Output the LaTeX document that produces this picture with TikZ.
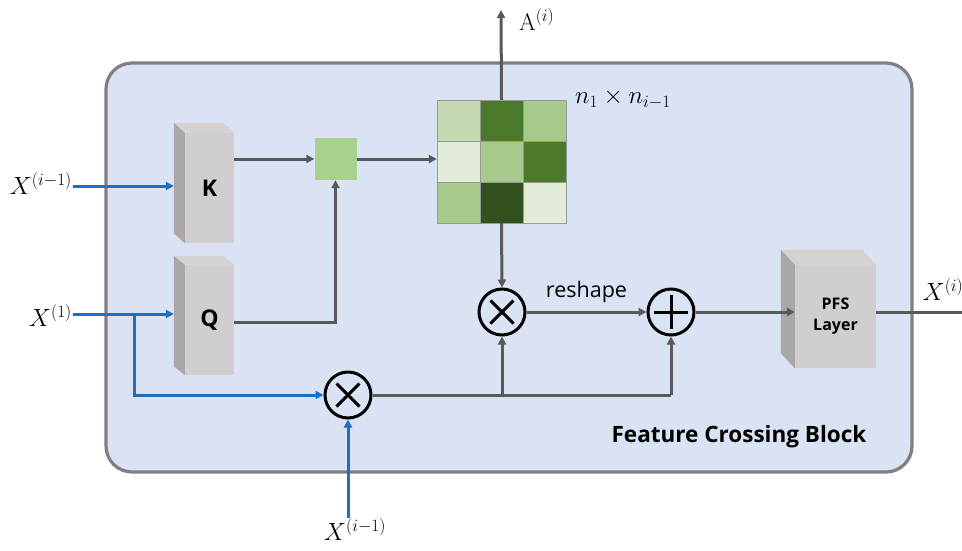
\documentclass[tikz,border=0pt]{standalone}
\usepackage{fontspec}
\setsansfont{Open Sans}
\usetikzlibrary{arrows.meta,calc}
\DeclareMathSizes{24}{24}{18.5}{14}
\definecolor{panel}{HTML}{DAE3F3}
\definecolor{frame}{HTML}{808080}
\definecolor{wire}{HTML}{595959}
\definecolor{inblue}{HTML}{1F6EBF}
\definecolor{boxfront}{HTML}{D0CECE}
\definecolor{boxtop}{HTML}{D6D2D2}
\definecolor{boxside}{HTML}{ABA7A7}
\definecolor{gA}{HTML}{C5D9B3}
\definecolor{gB}{HTML}{4B7A2C}
\definecolor{gC}{HTML}{A6C98C}
\definecolor{gD}{HTML}{E3ECD8}
\definecolor{gE}{HTML}{33511F}
\definecolor{gsq}{HTML}{A9D18E}
\tikzset{
  wirearrow/.style={draw=wire,line width=3pt,-{Triangle[length=8pt,width=8pt]}},
  wireline/.style={draw=wire,line width=3pt},
  bluearrow/.style={draw=inblue,line width=3pt,-{Triangle[length=8pt,width=8pt]}},
  blueline/.style={draw=inblue,line width=3pt},
  frontface/.style={fill=boxfront,draw=none,inner sep=0pt,font=\sffamily\bfseries},
  opcircle/.style={circle,draw=black,line width=3pt,minimum size=46pt,inner sep=0pt},
  opstroke/.style={line width=3pt},
  cell/.style={draw=gray!80,line width=1pt,minimum width=43pt,minimum height=41pt,inner sep=0pt},
  mathlabel/.style={font=\fontsize{24}{28}\selectfont,inner sep=0pt},
}
\begin{document}
\begin{tikzpicture}[x=1pt,y=-1pt]
\useasboundingbox (0,0) rectangle (962,550);
\fill[white] (0,0) rectangle (962,550);
% outer block
\draw[fill=panel,draw=frame,line width=3.2pt,rounded corners=26pt] (106,63) rectangle (912,472);
\node[font=\sffamily\bfseries\fontsize{22.5}{26}\selectfont,anchor=center] (title) at (739,437) {Feature Crossing Block};

% K and Q projection boxes (front face + side + top)
\node[frontface,minimum width=49pt,minimum height=110pt,font=\sffamily\bfseries\fontsize{23}{26}\selectfont] (K) at (209.5,188) {K};
\node[frontface,minimum width=49pt,minimum height=110pt,font=\sffamily\bfseries\fontsize{23}{26}\selectfont] (Q) at (209.5,320) {Q};
\node[frontface,minimum width=81pt,minimum height=103pt,align=center,font=\sffamily\bfseries\fontsize{16}{21}\selectfont] (P) at (835.5,316.5) {PFS\\Layer};
\foreach \b/\dx/\dy in {K/11/10,Q/11/9,P/14/15}{
  \fill[boxtop] (\b.north west) -- ++(-\dx,-\dy) -- ($(\b.north east)+(-\dx,-\dy)$) -- (\b.north east) -- cycle;
  \fill[boxside] (\b.north west) -- ++(-\dx,-\dy) -- ($(\b.south west)+(-\dx,-\dy)$) -- (\b.south west) -- cycle;
}

% similarity score
\node[fill=gsq,minimum size=42pt,inner sep=0pt] (S) at (335.5,159) {};

% attention matrix
\node[minimum width=129pt,minimum height=123pt,inner sep=0pt] (M) at (501.5,161.5) {};
\foreach \c [count=\i from 0] in {gA,gB,gC}{
  \node[cell,fill=\c] at (458.5+43*\i,120.5) {};}
\foreach \c [count=\i from 0] in {gD,gC,gB}{
  \node[cell,fill=\c] at (458.5+43*\i,161.5) {};}
\foreach \c [count=\i from 0] in {gC,gE,gD}{
  \node[cell,fill=\c] at (458.5+43*\i,202.5) {};}
\node[mathlabel,anchor=west] (dim) at (575,99) {$n_1\times n_{i-1}$};

% operators
\node[opcircle] (m1) at (502,312) {};
\draw[opstroke] ($(m1.center)+(-11.5,-11.5)$) -- ($(m1.center)+(11.5,11.5)$)
                ($(m1.center)+(-11.5,11.5)$) -- ($(m1.center)+(11.5,-11.5)$);
\node[opcircle] (p1) at (671,312) {};
\draw[opstroke] ($(p1.center)+(-17,0)$) -- ($(p1.center)+(17,0)$)
                ($(p1.center)+(0,-17)$) -- ($(p1.center)+(0,17)$);
\node[opcircle] (m2) at (348,395) {};
\draw[opstroke] ($(m2.center)+(-11.5,-11.5)$) -- ($(m2.center)+(11.5,11.5)$)
                ($(m2.center)+(-11.5,11.5)$) -- ($(m2.center)+(11.5,-11.5)$);

% gray data flow
\draw[wirearrow] (S.west -| K.east) -- (S.west);
\draw[wirearrow] (Q.east) ++(0,2) -- ($(Q.east -| S.south)+(0,2)$) -- (S.south);
\draw[wirearrow] (S.east) -- (S.east -| M.west);
\coordinate (Aout) at (501,10);
\draw[wirearrow] (M.north) -- (Aout);
\node[mathlabel,anchor=west] (Alab) at (519,20) {$\mathrm{A}^{(i)}$};
\draw[wirearrow] (M.south) -- (m1.north);
\draw[wirearrow] (m1.east) -- node[above=8pt,font=\sffamily\fontsize{21.5}{26}\selectfont,inner sep=0pt] (rs) {reshape} (p1.west);
\draw[wirearrow] (p1.east) -- (P.west |- p1.east);
\coordinate (Xout) at (962,312);
\draw[wireline] (P.east |- Xout) -- (Xout);
\node[mathlabel,anchor=south] (Xilab) at (943,301) {$X^{(i)}$};
\draw[wireline] (m2.east) -- (m2.east -| p1.south);
\draw[wirearrow] (m2.east -| m1.south) -- (m1.south);
\draw[wirearrow] (m2.east -| p1.south) -- (p1.south);

% blue inputs
\node[mathlabel,anchor=east] (Xa) at (72,184) {$X^{(i-1)}$};
\node[mathlabel,anchor=east] (Xb) at (72,316) {$X^{(1)}$};
\node[mathlabel,anchor=north] (Xc) at (355,518) {$X^{(i-1)}$};
\draw[bluearrow] (73,186) -- ($(K.west)+(-11,-2)$);
\draw[bluearrow] (73,314) -- ($(Q.west)+(-11,-6)$);
\coordinate (split) at (134,314);
\draw[bluearrow] (split) -- (split |- m2.west) -- (m2.west);
\draw[bluearrow] (m2.south |- Xc.north) -- (m2.south);
\end{tikzpicture}
\end{document}
